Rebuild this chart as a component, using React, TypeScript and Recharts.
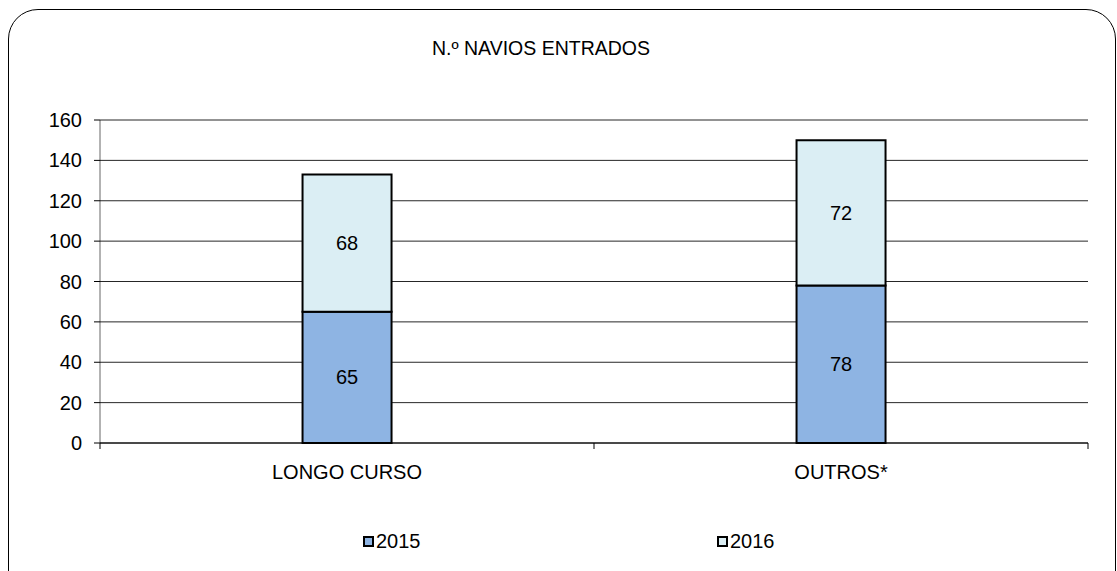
import { Bar, BarChart, CartesianGrid, LabelList, Legend, XAxis, YAxis } from 'recharts';

const categories = ['LONGO CURSO', 'OUTROS*'];
const values2015 = [65, 78];
const values2016 = [68, 72];
const yTicks = [0, 20, 40, 60, 80, 100, 120, 140, 160];

const COLOR_2015 = '#8EB4E3';
const COLOR_2016 = '#DBEEF4';
const FONT = '"Liberation Sans", Arial, sans-serif';

const data = categories.map((name, i) => ({
  name,
  y2015: values2015[i],
  y2016: values2016[i],
}));

// Excel puts category tick marks on the boundaries, not at the centres
const CategoryTick = (props: any) => {
  const { x, y, payload, index } = props;
  const half = payload?.offset ?? 0;
  return (
    <g>
      <line x1={x - half} y1={y - 8} x2={x - half} y2={y - 2} stroke="#000" />
      {index === categories.length - 1 && (
        <line x1={x + half} y1={y - 8} x2={x + half} y2={y - 2} stroke="#000" />
      )}
      <text x={x} y={y + 28} textAnchor="middle" fontSize={20} fill="#000" fontFamily={FONT}>
        {payload.value}
      </text>
    </g>
  );
};

const LegendContent = () => (
  <div style={{ position: 'relative', height: 24, fontFamily: FONT, fontSize: 20, color: '#000' }}>
    {[
      { label: '2015', color: COLOR_2015, left: 363 },
      { label: '2016', color: COLOR_2016, left: 717 },
    ].map((it) => (
      <span key={it.label} style={{ position: 'absolute', left: it.left, top: 0, display: 'flex', alignItems: 'center', lineHeight: '24px' }}>
        <span style={{ width: 7, height: 7, background: it.color, border: '2px solid #000', marginRight: 2 }} />
        {it.label}
      </span>
    ))}
  </div>
);

export default function App() {
  return (
    <div style={{ position: 'absolute', left: 0, top: 0, width: 1117, height: 571, overflow: 'hidden', background: '#fff' }}>
      <div
        style={{
          position: 'absolute',
          left: 8,
          top: 9,
          width: 1106,
          height: 620,
          border: '1px solid #000',
          borderRadius: 30,
        }}
      />
      <div
        style={{
          position: 'absolute',
          left: 0,
          top: 36,
          width: 1082,
          textAlign: 'center',
          fontFamily: FONT,
          fontSize: 19.5,
          lineHeight: '24px',
          color: '#000',
        }}
      >
        N.º NAVIOS ENTRADOS
      </div>
      <div style={{ position: 'absolute', left: 0, top: 0 }}>
        <BarChart
          width={1117}
          height={571}
          data={data}
          margin={{ top: 120, right: 29, left: 0, bottom: 64 }}
          barCategoryGap="41%"
        >
          <CartesianGrid vertical={false} stroke="#000" strokeOpacity={0.85} />
          <XAxis
            dataKey="name"
            height={40}
            axisLine={{ stroke: '#000' }}
            tickLine={false}
            tick={<CategoryTick />}
            interval={0}
          />
          <YAxis
            width={100}
            domain={[0, 160]}
            ticks={yTicks}
            axisLine={{ stroke: '#000', strokeOpacity: 0.6 }}
            tickLine={{ stroke: '#000' }}
            tickSize={6}
            tickMargin={12}
            tick={{ fontSize: 20, fill: '#000', fontFamily: FONT }}
          />
          <Legend
            verticalAlign="bottom"
            wrapperStyle={{ position: 'absolute', left: 0, top: 529, width: 1117, height: 24, bottom: 'auto' }}
            content={<LegendContent />}
          />
          <Bar dataKey="y2015" stackId="a" fill={COLOR_2015} stroke="#000" strokeWidth={2} isAnimationActive={false}>
            <LabelList dataKey="y2015" position="center" fill="#000" fontSize={20} fontFamily={FONT} />
          </Bar>
          <Bar dataKey="y2016" stackId="a" fill={COLOR_2016} stroke="#000" strokeWidth={2} isAnimationActive={false}>
            <LabelList dataKey="y2016" position="center" fill="#000" fontSize={20} fontFamily={FONT} />
          </Bar>
        </BarChart>
      </div>
    </div>
  );
}
